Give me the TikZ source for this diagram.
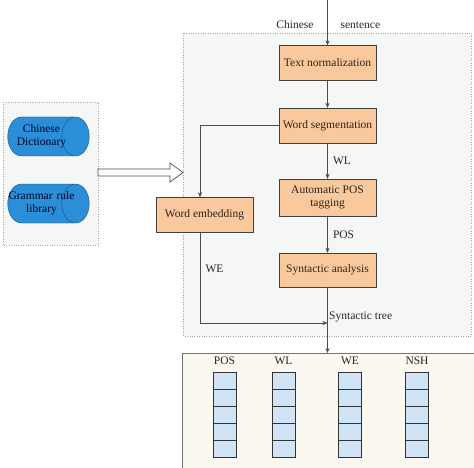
\documentclass[tikz,border=0pt]{standalone}
\usepackage{fontspec}
\setmainfont{Liberation Serif}
\usetikzlibrary{shapes.geometric,arrows.meta}
\definecolor{peach}{HTML}{F9C89C}
\definecolor{dbblue}{HTML}{2A8FD8}
\definecolor{dbline}{HTML}{1F4F86}
\definecolor{cellblue}{HTML}{D0E4F5}
\definecolor{panel}{HTML}{F5F6F6}
\definecolor{cream}{HTML}{FAF8F0}
\definecolor{ink}{HTML}{2E251C}
\newcommand{\dbline}[1]{\makebox[40pt][c]{#1}}
\begin{document}
\begin{tikzpicture}[x=1pt,y=-1pt,
  every node/.style={font=\fontsize{11.5}{12.5}\selectfont, text=ink},
  proc/.style={draw=black!75, fill=peach, minimum width=97pt, minimum height=35pt, inner sep=1pt, align=center},
  db/.style={cylinder, shape border rotate=0, aspect=1.2, draw=dbline, fill=dbblue, minimum height=77pt, minimum width=39pt, inner sep=0pt, text width=40pt, align=center, text=black!85!blue},
  flow/.style={draw=black!70, -{Stealth[length=5pt,width=4pt]}},
  cell/.style={draw=black!80, fill=cellblue, minimum width=23pt, minimum height=17pt, inner sep=0pt}
]
\useasboundingbox (0,0) rectangle (474,468);
\clip (0,0) rectangle (474,468);
% Paneles
\draw[black!35, dotted, fill=panel] (183,33) rectangle (471,336);
\draw[black!35, dotted, fill=panel] (3,102) rectangle (98,245);
\node[draw=black!55, fill=cream, minimum width=318pt, minimum height=130pt, inner sep=0pt, anchor=north west] (store) at (182,353) {};
% Recursos
\node[db] (dict) at (41.5,136.5) {\dbline{Chinese}\\\dbline{Dictionary}};
\node[db] (gram) at (41.5,203.5) {\dbline{Grammar rule}\\\dbline{library}};
\draw[black!70, fill=white, line width=0.7pt] (98,169) -- (170,169) -- (170,163) -- (183,172.5) -- (170,182) -- (170,176) -- (98,176) -- cycle;
% Proceso
\node[proc] (norm) at (327.5,63) {Text normalization};
\node[proc] (seg) at (327.5,125.5) {Word segmentation};
\node[proc, minimum height=37pt] (tag) at (327.5,197.5) {Automatic POS\\tagging};
\node[proc, minimum height=34pt] (syn) at (327.5,270) {Syntactic analysis};
\node[proc] (emb) at (204.5,215) {Word embedding};
% Entrada
\coordinate (in) at (327.5,0);
\node[anchor=east] (chn) at (317,25) {Chinese};
\node[anchor=west] (snt) at (337,25) {sentence};
\draw[flow] (in) -- (norm);
\draw[flow] (norm) -- (seg);
\draw[flow] (seg) -- node[right, xshift=2pt] (wl) {WL} (tag);
\draw[flow] (tag) -- node[right, xshift=2pt] (pos) {POS} (syn);
\draw[flow] (seg.west) -| ([xshift=-4.5pt]emb.north);
\coordinate (tree) at (327.5,323);
\draw[flow] ([xshift=-4.5pt]emb.south) |- node[pos=0.2, right, xshift=2pt] (we) {WE} (tree);
\node[anchor=west, inner sep=1pt] (treelbl) at (328,317) {Syntactic tree};
\draw[flow] (syn) -- (syn |- store.north);
% Vectores
\foreach \nm/\lbl/\cx in {p/POS/224.5, l/WL/283.5, e/WE/350, n/NSH/417}{
  \node (\nm lbl) at (\cx,361) {\lbl};
  \foreach \k in {1,...,5}
    \node[cell] (\nm\k) at (\cx,{363.5+17*\k}) {};
}
\end{tikzpicture}
\end{document}
